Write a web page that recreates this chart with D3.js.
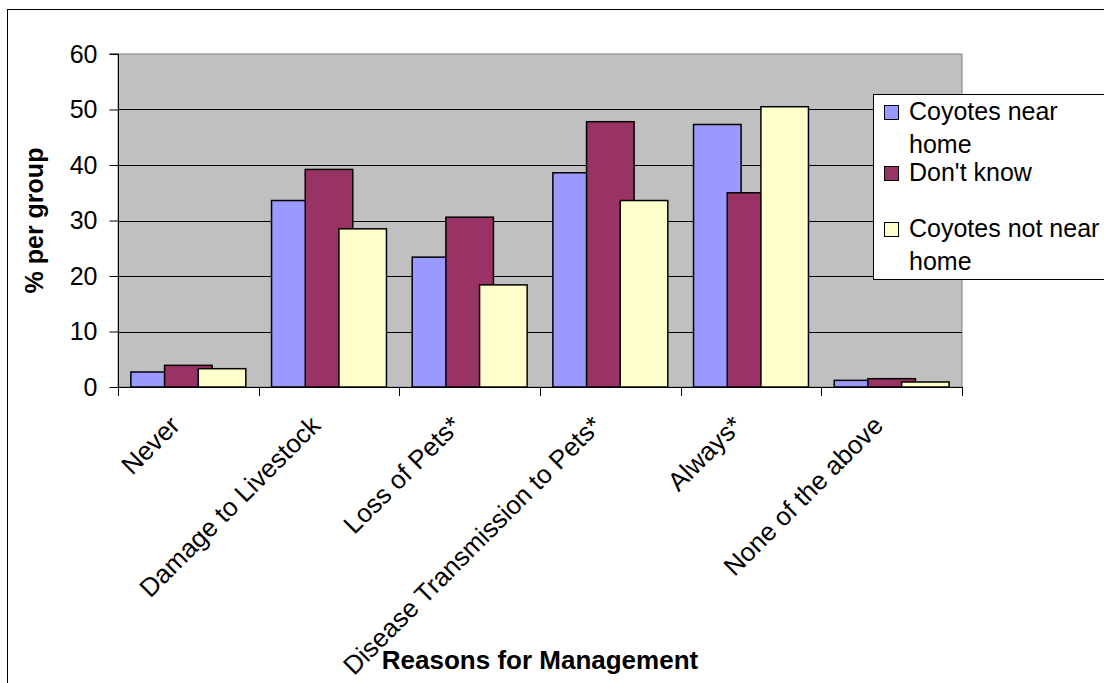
<!DOCTYPE html>
<html>
<head>
<meta charset="utf-8">
<script src="https://cdn.jsdelivr.net/npm/d3@7"></script>
<style>
  html, body { margin: 0; padding: 0; background: #fff; }
  svg { display: block; }
  text { font-family: "Liberation Sans", Arial, sans-serif; fill: #000; }
</style>
</head>
<body>
<svg id="chart" width="1104" height="683"></svg>
<script>
// Reasons for coyote management, % of respondents per group
const categories = ["Never", "Damage to Livestock", "Loss of Pets*", "Disease Transmission to Pets*", "Always*", "None of the above"];
const seriesNames = ["Coyotes near home", "Don't know", "Coyotes not near home"];
const nearHome    = [2.7, 33.6, 23.4, 38.6, 47.3, 1.2];
const dontKnow    = [3.9, 39.2, 30.6, 47.8, 35.0, 1.5];
const notNearHome = [3.3, 28.5, 18.4, 33.6, 50.5, 0.9];
const yTicks = [0, 10, 20, 30, 40, 50, 60];
const seriesColors = ["#9999FF", "#993366", "#FFFFCC"];

const seriesValues = [nearHome, dontKnow, notNearHome];

const svg = d3.select("#chart");
const plot = { left: 118, right: 962, top: 54, bottom: 387 };

// chart frame
svg.append("rect")
  .attr("x", 7.5).attr("y", 9.5)
  .attr("width", 1200).attr("height", 800)
  .attr("fill", "#fff").attr("stroke", "#000").attr("stroke-width", 1);

const x = d3.scaleBand().domain(categories).range([plot.left, plot.right]).padding(0);
const y = d3.scaleLinear().domain([0, 60]).range([plot.bottom, plot.top]);

// overlapping clustered bars
const bw = x.bandwidth();
const barW = bw * 0.338;
const step = bw * 0.2395;
const groupStart = (bw - (barW + 2 * step)) / 2;
const xSub = d3.scalePoint().domain(seriesNames).range([groupStart, groupStart + 2 * step]);

// plot background
svg.append("rect")
  .attr("x", plot.left).attr("y", plot.top)
  .attr("width", plot.right - plot.left).attr("height", plot.bottom - plot.top)
  .attr("fill", "#C0C0C0").attr("stroke", "#808080").attr("stroke-width", 1);

// horizontal gridlines
svg.append("g").selectAll("line")
  .data(yTicks.filter(t => t > 0 && t < 60))
  .join("line")
  .attr("x1", plot.left).attr("x2", plot.right)
  .attr("y1", d => Math.round(y(d)) + 0.5).attr("y2", d => Math.round(y(d)) + 0.5)
  .attr("stroke", "#000").attr("stroke-width", 1);

// bars: one series at a time so later series sit on top
seriesNames.forEach((name, si) => {
  svg.append("g").selectAll("rect")
    .data(categories.map((c, ci) => ({ c, v: seriesValues[si][ci] })))
    .join("rect")
    .attr("x", d => x(d.c) + xSub(name))
    .attr("y", d => y(d.v))
    .attr("width", barW)
    .attr("height", d => y(0) - y(d.v))
    .attr("fill", seriesColors[si])
    .attr("stroke", "#000")
    .attr("stroke-width", 1.5);
});

// y axis
const yAxis = svg.append("g")
  .attr("transform", `translate(${plot.left + 0.5},0)`)
  .call(d3.axisLeft(y).tickValues(yTicks).tickSize(9).tickPadding(12).tickFormat(d3.format("d")));
yAxis.select(".domain").attr("stroke", "#000").attr("d", `M-9,${plot.top}H0V${plot.bottom}`);
yAxis.selectAll(".tick line").attr("stroke", "#000");
yAxis.selectAll(".tick text").attr("font-size", 25).attr("font-family", '"Liberation Sans", Arial, sans-serif').attr("fill", "#000");

// x axis line and category boundary ticks
const boundaries = categories.map(c => x(c)).concat([x(categories[categories.length - 1]) + bw]);
svg.append("line")
  .attr("x1", plot.left).attr("x2", plot.right)
  .attr("y1", plot.bottom + 0.5).attr("y2", plot.bottom + 0.5)
  .attr("stroke", "#000");
svg.append("g").selectAll("line")
  .data(boundaries)
  .join("line")
  .attr("x1", d => Math.round(d) + 0.5).attr("x2", d => Math.round(d) + 0.5)
  .attr("y1", plot.bottom).attr("y2", plot.bottom + 9)
  .attr("stroke", "#000");

// rotated category labels
svg.append("g").selectAll("text")
  .data(categories)
  .join("text")
  .attr("transform", d => `translate(${x(d) + bw / 2 - 7},427) rotate(-45)`)
  .attr("text-anchor", "end")
  .attr("font-size", 26)
  .text(d => d);

// axis titles
svg.append("text")
  .attr("transform", `translate(43,${(plot.top + plot.bottom) / 2 + 0}) rotate(-90)`)
  .attr("text-anchor", "middle")
  .attr("font-size", 25).attr("font-weight", "bold")
  .text("% per group");

svg.append("text")
  .attr("x", (plot.left + plot.right) / 2).attr("y", 669)
  .attr("text-anchor", "middle")
  .attr("font-size", 26).attr("font-weight", "bold")
  .text("Reasons for Management");

// legend
const legend = svg.append("g");
legend.append("rect")
  .attr("x", 873.5).attr("y", 94.5)
  .attr("width", 300).attr("height", 185)
  .attr("fill", "#fff").attr("stroke", "#000");

const entryBaselines = [120, 181, 237];
const lineGap = 32.5;
const maxTextW = 196;

seriesNames.forEach((name, i) => {
  const by = entryBaselines[i];
  legend.append("rect")
    .attr("x", 884.5).attr("y", by - 14.5)
    .attr("width", 14).attr("height", 14)
    .attr("fill", seriesColors[i]).attr("stroke", "#000");
  const t = legend.append("text")
    .attr("x", 909).attr("y", by)
    .attr("font-size", 25);
  // word wrap to the legend width
  const words = name.split(" ");
  let line = [];
  let tspan = t.append("tspan").attr("x", 909).attr("y", by);
  let lineNo = 0;
  words.forEach(w => {
    line.push(w);
    tspan.text(line.join(" "));
    if (tspan.node().getComputedTextLength() > maxTextW && line.length > 1) {
      line.pop();
      tspan.text(line.join(" "));
      line = [w];
      lineNo++;
      tspan = t.append("tspan").attr("x", 909).attr("y", by + lineNo * lineGap).text(w);
    }
  });
});
</script>
</body>
</html>
